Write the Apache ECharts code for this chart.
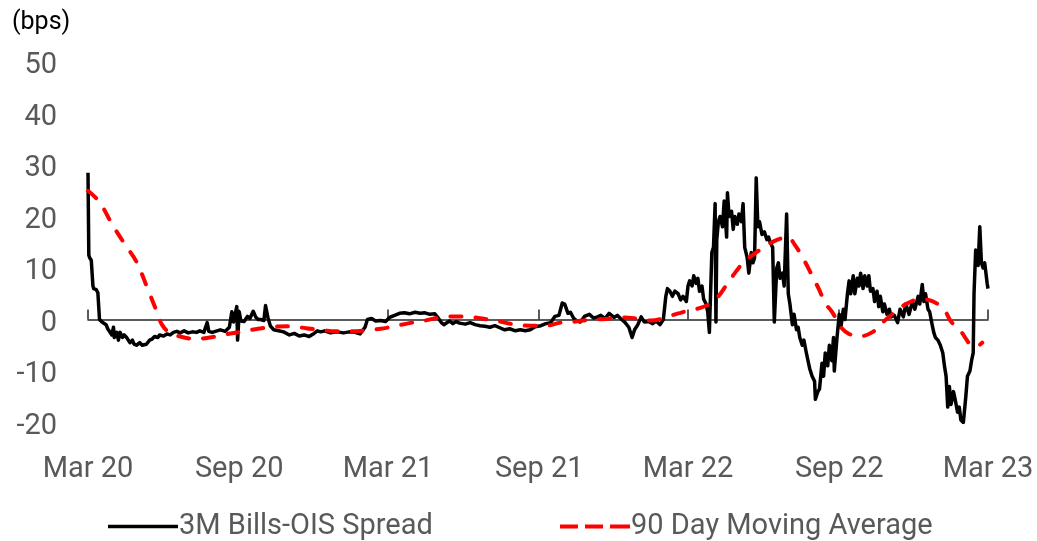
<!DOCTYPE html>
<html>
<head>
<meta charset="utf-8">
<script src="https://cdn.jsdelivr.net/npm/echarts@6/dist/echarts.min.js"></script>
<style>
  html, body { margin: 0; padding: 0; background: #fff; }
  #chart { width: 1037px; height: 541px; }
</style>
</head>
<body>
<div id="chart"></div>
<script>
// 3M Bills-OIS spread (bps), sampled observations
const spreadDates = [
  '2020-03-01','2020-03-02','2020-03-03','2020-03-05','2020-03-07','2020-03-08','2020-03-11','2020-03-13','2020-03-15','2020-03-18',
  '2020-03-20','2020-03-23','2020-03-25','2020-03-27','2020-03-30','2020-04-01','2020-04-02','2020-04-05','2020-04-07','2020-04-09',
  '2020-04-12','2020-04-14','2020-04-17','2020-04-19','2020-04-21','2020-04-24','2020-04-26','2020-04-29','2020-05-01','2020-05-03',
  '2020-05-06','2020-05-08','2020-05-11','2020-05-13','2020-05-15','2020-05-18','2020-05-21','2020-05-25','2020-05-27','2020-06-01',
  '2020-06-05','2020-06-09','2020-06-13','2020-06-17','2020-06-21','2020-06-26','2020-07-01','2020-07-06','2020-07-11','2020-07-15',
  '2020-07-20','2020-07-24','2020-07-26','2020-07-30','2020-08-05','2020-08-09','2020-08-15','2020-08-20','2020-08-23','2020-08-25',
  '2020-08-29','2020-08-30','2020-09-01','2020-09-03','2020-09-07','2020-09-11','2020-09-14','2020-09-18','2020-09-21','2020-09-24',
  '2020-09-27','2020-10-01','2020-10-03','2020-10-06','2020-10-09','2020-10-13','2020-10-19','2020-10-25','2020-11-01','2020-11-07',
  '2020-11-13','2020-11-19','2020-11-25','2020-12-01','2020-12-05','2020-12-09','2020-12-14','2020-12-21','2020-12-29','2021-01-06',
  '2021-01-13','2021-01-20','2021-01-26','2021-02-01','2021-02-04','2021-02-09','2021-02-14','2021-02-20','2021-02-26','2021-03-03',
  '2021-03-09','2021-03-15','2021-03-21','2021-03-27','2021-04-03','2021-04-09','2021-04-15','2021-04-21','2021-04-27','2021-05-01',
  '2021-05-05','2021-05-08','2021-05-12','2021-05-15','2021-05-19','2021-05-23','2021-05-27','2021-06-03','2021-06-09','2021-06-15',
  '2021-06-21','2021-06-27','2021-07-03','2021-07-09','2021-07-15','2021-07-21','2021-07-27','2021-08-03','2021-08-09','2021-08-15',
  '2021-08-21','2021-08-27','2021-09-03','2021-09-09','2021-09-15','2021-09-20','2021-09-25','2021-09-29','2021-10-02','2021-10-06',
  '2021-10-09','2021-10-13','2021-10-17','2021-10-21','2021-10-26','2021-11-01','2021-11-06','2021-11-11','2021-11-15','2021-11-20',
  '2021-11-25','2021-12-01','2021-12-05','2021-12-09','2021-12-14','2021-12-19','2021-12-23','2021-12-26','2021-12-30','2022-01-03',
  '2022-01-07','2022-01-12','2022-01-17','2022-01-21','2022-01-26','2022-01-30','2022-02-02','2022-02-04','2022-02-07','2022-02-10',
  '2022-02-13','2022-02-17','2022-02-20','2022-02-23','2022-02-27','2022-03-01','2022-03-03','2022-03-06','2022-03-08','2022-03-11',
  '2022-03-13','2022-03-15','2022-03-18','2022-03-20','2022-03-23','2022-03-25','2022-03-27','2022-03-30','2022-04-01','2022-04-03',
  '2022-04-04','2022-04-05','2022-04-07','2022-04-09','2022-04-12','2022-04-14','2022-04-17','2022-04-18','2022-04-20','2022-04-23',
  '2022-04-25','2022-04-27','2022-04-30','2022-05-02','2022-05-05','2022-05-07','2022-05-09','2022-05-12','2022-05-14','2022-05-17',
  '2022-05-19','2022-05-21','2022-05-23','2022-05-25','2022-05-27','2022-05-30','2022-06-02','2022-06-05','2022-06-07','2022-06-09',
  '2022-06-12','2022-06-14','2022-06-17','2022-06-19','2022-06-21','2022-06-24','2022-06-26','2022-06-29','2022-07-01','2022-07-03',
  '2022-07-06','2022-07-08','2022-07-11','2022-07-13','2022-07-15','2022-07-18','2022-07-20','2022-07-23','2022-07-25','2022-07-27',
  '2022-07-30','2022-08-02','2022-08-03','2022-08-06','2022-08-08','2022-08-11','2022-08-13','2022-08-15','2022-08-18','2022-08-20',
  '2022-08-23','2022-08-25','2022-08-26','2022-08-29','2022-09-01','2022-09-03','2022-09-06','2022-09-08','2022-09-11','2022-09-13',
  '2022-09-15','2022-09-18','2022-09-20','2022-09-23','2022-09-25','2022-09-27','2022-09-30','2022-10-02','2022-10-05','2022-10-07',
  '2022-10-09','2022-10-12','2022-10-14','2022-10-17','2022-10-19','2022-10-21','2022-10-24','2022-10-26','2022-10-29','2022-11-01',
  '2022-11-03','2022-11-07','2022-11-11','2022-11-14','2022-11-18','2022-11-21','2022-11-25','2022-11-29','2022-12-02','2022-12-06',
  '2022-12-08','2022-12-11','2022-12-13','2022-12-15','2022-12-18','2022-12-20','2022-12-23','2022-12-25','2022-12-27','2022-12-30',
  '2023-01-02','2023-01-05','2023-01-07','2023-01-09','2023-01-11','2023-01-13','2023-01-15','2023-01-18','2023-01-20','2023-01-23',
  '2023-01-25','2023-01-27','2023-01-30','2023-02-02','2023-02-04','2023-02-07','2023-02-09','2023-02-11','2023-02-12','2023-02-14',
  '2023-02-17','2023-02-19','2023-02-21','2023-02-23','2023-02-25','2023-02-28','2023-03-01'
];
const spread = [
  28.5, 12.5, 12, 11.5, 6.5, 6, 5.8, 5.2, 0, -0.5,
  -0.5, -1, -1.8, -1.5, -3, -1.5, -3.5, -2.5, -4, -2.5,
  -3.5, -3, -3.5, -4, -4.5, -4, -4.8, -5, -5.2, -4.5,
  -5, -5.2, -4.8, -4.5, -4, -3.8, -3.3, -3.5, -3, -3.2,
  -2.8, -3, -2.5, -2.3, -2.6, -2.2, -2.6, -2.4, -2.5, -2.2,
  -2.5, -0.6, -2.3, -2.5, -2.2, -2, -2.3, -1.5, 1.5, -0.5,
  2.5, -4, 1.5, -0.3, -0.4, 0.6, 0.2, 1.6, 0.5, 0,
  0, -0.2, 2.7, 0.3, -1.3, -2, -2.2, -2.4, -3, -2.7,
  -3.2, -3, -3.3, -2.7, -2.2, -2.4, -2.2, -2.6, -2.4, -2.6,
  -2.4, -2.5, -2.8, -1.5, 0, 0.2, -0.3, -0.2, -0.4, 0.4,
  0.8, 1.2, 1.3, 1.1, 1.4, 1.2, 1.3, 1.0, 1.1, 0.3,
  -0.6, -1, -0.6, -0.3, -0.8, -0.4, -0.7, -0.9, -0.6, -1,
  -1.2, -1.3, -1.5, -1.2, -1.6, -2, -1.8, -2.2, -2, -2.2,
  -2, -1.4, -1.2, -0.8, -0.6, 0.6, 0.8, 3.2, 3, 1.2,
  1.4, 0.2, -0.3, -0.5, 0.6, 1, 0.3, 0.5, 0.8, 0.2,
  1.2, 0.4, 0.8, 0.2, -0.5, -1.5, -3.5, -2, -1, 0.5,
  -0.5, -0.4, -0.8, -0.3, -1, 0, 4.5, 6, 5.5, 4.5,
  5.5, 5, 3.8, 4.5, 3.5, 6.5, 7.5, 6.5, 8.5, 7,
  8, 5.5, 6.5, 4, 3, 1.5, -2.5, 13, 14, 22.5,
  -0.5, 15.5, 19, 20, 18, 23, 16, 24.6, 20, 21,
  17.5, 20, 18.5, 20.5, 19, 22.5, 14, 12, 9, 13,
  11, 12, 27.5, 18, 19, 16.5, 17, 15.5, 16, 15,
  14, -0.5, 10, 11, 8, 9, 6.5, 20.5, 5, 3,
  -1, 1, -2, -1.5, -3.5, -5, -4, -6.5, -8, -9.5,
  -11, -12, -15.5, -14, -13.5, -8.5, -11, -6.5, -9, -5,
  -8, -3.5, -10, -4, 1, -1.5, 2, 0, 5, 7.5,
  5, 8.5, 5, 8, 6.5, 9, 6, 8.5, 6.5, 8.5,
  5.5, 6, 3.5, 5.5, 2.5, 4.5, 1.5, 3, 1, 2,
  0.5, 0.8, -0.6, 2, 0.5, 3, 1, 3.5, 2, 4.5,
  3, 6.8, 3.5, 5, 2, 1.5, -1, -2.5, -3.5, -4,
  -5, -6.5, -9, -11, -17, -13, -16.5, -14, -15.5, -18,
  -17, -19.5, -20, -15, -11, -10, -8, -6.5, 5, 13.5,
  10.5, 18, 11, 10, 11, 7, 6
];

// 90 day moving average (bps)
const maDates = [
  '2020-03-01','2020-03-15','2020-03-30','2020-04-14','2020-04-29','2020-05-13','2020-05-23','2020-05-30','2020-06-09','2020-06-21',
  '2020-07-09','2020-07-27','2020-08-15','2020-09-03','2020-09-24','2020-10-15','2020-11-03','2020-11-21','2020-12-09','2020-12-27',
  '2021-01-15','2021-02-03','2021-02-20','2021-03-09','2021-03-27','2021-04-15','2021-05-03','2021-05-21','2021-06-09','2021-06-27',
  '2021-07-15','2021-08-03','2021-08-21','2021-09-09','2021-09-27','2021-10-15','2021-11-03','2021-11-21','2021-12-09','2021-12-27',
  '2022-01-15','2022-01-27','2022-02-09','2022-02-20','2022-03-03','2022-03-15','2022-03-27','2022-04-07','2022-04-18','2022-04-27',
  '2022-05-07','2022-05-21','2022-06-06','2022-06-18','2022-06-30','2022-07-09','2022-07-21','2022-07-30','2022-08-07','2022-08-15',
  '2022-08-24','2022-09-03','2022-09-13','2022-09-25','2022-10-12','2022-10-25','2022-11-09','2022-11-21','2022-12-07','2022-12-19',
  '2023-01-06','2023-01-15','2023-01-27','2023-02-07','2023-02-14','2023-02-22'
];
const movingAvg = [
  25, 22.8, 18.6, 14.8, 11.2, 5.8, 1.8, -1, -2.7, -3.3,
  -3.8, -3.5, -2.9, -2.4, -1.8, -1.4, -1.3, -1.7, -2, -2.3,
  -2.3, -2.1, -1.8, -1.3, -0.7, -0.2, 0.4, 0.6, 0.5, 0.1,
  -0.4, -1, -1.2, -1.2, -0.6, -0.4, 0, 0.1, 0.4, 0.2,
  -0.2, 0.1, 0.8, 1.3, 1.8, 2.2, 3, 4.5, 7, 9,
  11, 12.8, 14.5, 15.5, 16, 14.5, 11.3, 8.5, 6, 3.2,
  1.3, -1.5, -2.8, -3.3, -2.4, -0.4, 1.6, 3, 3.9, 3.8,
  2, -0.4, -2.3, -4.8, -5.3, -4.5
];

// Axis ticks every six months and their labels
const tickDates = ['2020-03-01','2020-09-01','2021-03-01','2021-09-01','2022-03-01','2022-09-01','2023-03-01'];
const tickLabels = ['Mar 20','Sep 20','Mar 21','Sep 21','Mar 22','Sep 22','Mar 23'];

// dates are plotted as UTC timestamps on a numeric axis
const ts = s => Date.UTC(+s.slice(0, 4), +s.slice(5, 7) - 1, +s.slice(8, 10));
const tickTs = tickDates.map(ts);
const FONT = 'Roboto, "Noto Sans", sans-serif';
const GREY = '#595959';

const chart = echarts.init(document.getElementById('chart'), null, { renderer: 'canvas' });

chart.setOption({
  animation: false,
  backgroundColor: '#ffffff',
  textStyle: { fontFamily: FONT },
  grid: { left: 88, right: 49, top: 62, bottom: 118.5, containLabel: false },
  graphic: [{
    type: 'text', left: 12, top: 10,
    style: { text: '(bps)', fill: '#000', font: '25px ' + FONT }
  }],
  xAxis: [
    {
      // date labels along the bottom
      type: 'value', min: tickTs[0], max: tickTs[tickTs.length - 1],
      position: 'bottom',
      axisLine: { show: false, onZero: false },
      axisTick: { show: false },
      splitLine: { show: false },
      axisLabel: {
        customValues: tickTs, showMinLabel: true, showMaxLabel: true,
        color: GREY, fontSize: 29, fontFamily: FONT, margin: 33,
        formatter: v => tickLabels[tickTs.indexOf(v)] || ''
      }
    },
    {
      // baseline at zero with inward ticks
      type: 'value', min: tickTs[0], max: tickTs[tickTs.length - 1],
      position: 'bottom',
      axisLine: { show: true, onZero: true, lineStyle: { color: '#262626', width: 1.5 } },
      axisTick: { show: true, inside: true, length: 10, customValues: tickTs, lineStyle: { color: '#262626', width: 1.5 } },
      axisLabel: { show: false },
      splitLine: { show: false }
    }
  ],
  yAxis: {
    type: 'value', min: -20, max: 50, interval: 10,
    axisLine: { show: false }, axisTick: { show: false }, splitLine: { show: false },
    axisLabel: {
      margin: 31,
      formatter: v => '{v|' + v + '}',
      rich: { v: { color: GREY, fontSize: 29, fontFamily: FONT, padding: [8, 0, 0, 0] } }
    }
  },
  legend: [
    {
      left: 103, top: 507, itemWidth: 70, itemHeight: 3.5, itemGap: 0,
      textStyle: { color: GREY, fontSize: 29, fontFamily: FONT, padding: [0, 0, 0, -4] },
      data: [{ name: '3M Bills-OIS Spread', icon: 'rect' }]
    },
    {
      left: 555, top: 507, itemWidth: 70, itemHeight: 4, itemGap: 0,
      textStyle: { color: GREY, fontSize: 29, fontFamily: FONT, padding: [0, 0, 0, -4] },
      data: [{
        name: '90 Day Moving Average',
        icon: 'path://M0,0H18V4H0Z M25,0H43V4H25Z M50,0H70V4H50Z',
        itemStyle: { color: '#ff0000' }
      }]
    }
  ],
  series: [
    {
      name: '3M Bills-OIS Spread', type: 'line', xAxisIndex: 0,
      data: spreadDates.map((d, i) => [ts(d), spread[i]]),
      symbol: 'none', z: 3,
      lineStyle: { color: '#000', width: 3.5, join: 'round' },
      itemStyle: { color: '#000' }
    },
    {
      name: '90 Day Moving Average', type: 'line', xAxisIndex: 0,
      data: maDates.map((d, i) => [ts(d), movingAvg[i]]),
      symbol: 'none', smooth: 0.35, z: 4,
      lineStyle: { color: '#ff0000', width: 4, type: [11, 14], cap: 'round' },
      itemStyle: { color: '#ff0000' }
    }
  ]
});
</script>
</body>
</html>
